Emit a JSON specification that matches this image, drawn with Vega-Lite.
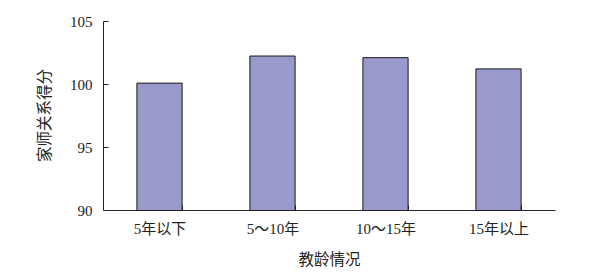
{
  "$schema": "https://vega.github.io/schema/vega-lite/v6.json",
  "autosize": "none",
  "width": 452,
  "height": 189,
  "padding": {"left": 103, "top": 21, "right": 48, "bottom": 67},
  "background": "white",
  "config": {
    "view": {"stroke": null},
    "font": "Liberation Serif"
  },
  "data": {
    "values": [
      {"group": "5年以下", "score": 100.07},
      {"group": "5～10年", "score": 102.22},
      {"group": "10～15年", "score": 102.09},
      {"group": "15年以上", "score": 101.2}
    ]
  },
  "mark": {"type": "bar", "color": "#9999CC", "stroke": "#1a1a1a", "strokeWidth": 1, "clip": true},
  "encoding": {
    "x": {
      "field": "group",
      "type": "nominal",
      "sort": null,
      "scale": {"paddingInner": 0.6, "paddingOuter": 0.3},
      "axis": {
        "title": "教龄情况",
        "titleFont": "Noto Sans CJK SC",
        "titleFontSize": 15.5,
        "titleFontWeight": "normal",
        "titleColor": "#222",
        "titlePadding": 16,
        "labelAngle": 0,
        "labelFont": "Liberation Serif, Noto Sans CJK SC",
        "labelFontSize": 15,
        "labelColor": "#222",
        "labelPadding": 16,
        "domainColor": "#222",
        "tickColor": "#222",
        "tickWidth": 1,
        "tickSize": -5,
        "tickBand": "extent"
      }
    },
    "y": {
      "field": "score",
      "type": "quantitative",
      "scale": {"domain": [90, 105], "zero": false},
      "axis": {
        "title": "家师关系得分",
        "titleFont": "Noto Sans CJK SC",
        "titleFontSize": 15.5,
        "titleFontWeight": "normal",
        "titleColor": "#222",
        "titlePadding": 17,
        "titleY": 94,
        "values": [90, 95, 100, 105],
        "grid": false,
        "labelFont": "Liberation Serif",
        "labelFontSize": 15,
        "labelColor": "#222",
        "labelPadding": 16,
        "domainColor": "#222",
        "tickColor": "#222",
        "tickSize": -5
      }
    }
  }
}
